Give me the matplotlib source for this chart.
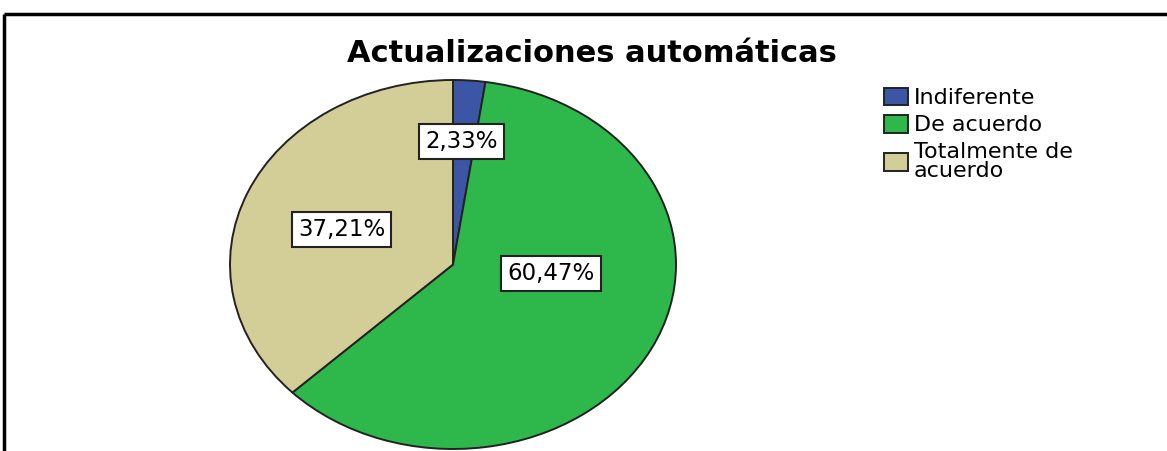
import matplotlib.pyplot as plt
from matplotlib.lines import Line2D

# data
categories = ['Indiferente', 'De acuerdo', 'Totalmente de\nacuerdo']
percentages = [2.33, 60.47, 37.21]
colors = ['#3c56a6', '#2eb84b', '#d3ce98']
title = 'Actualizaciones automáticas'

# label box positions (data coords inside the unit pie)
label_pos = [(0.04, 0.665), (0.44, -0.05), (-0.50, 0.19)]

fig = plt.figure(figsize=(11.67, 4.51), dpi=100)
W, H = 1167, 451

# pie axes, stretched into an ellipse like the original
ax = fig.add_axes([230 / W, 1 - 449 / H, 446 / W, 369 / H])
wedges, _ = ax.pie(percentages, colors=colors, startangle=90, counterclock=False,
                   wedgeprops=dict(edgecolor='#222222', linewidth=1.4))
ax.set_aspect('auto')
ax.set_xlim(-1.0, 1.0)
ax.set_ylim(-1.0, 1.0)

for (x, y), p in zip(label_pos, percentages):
    ax.text(x, y, f'{p:.2f}%'.replace('.', ','), ha='center', va='center', fontsize=16.5,
            bbox=dict(boxstyle='square,pad=0.27', facecolor='white', edgecolor='#222222', linewidth=1.5))

# title
fig.text(592 / W, 1 - 54 / H, title, ha='center', va='center', fontsize=22, fontweight='bold')

# legend
leg = fig.legend(wedges, categories, loc='upper left', bbox_to_anchor=(868 / W, 1 - 72 / H),
                 frameon=False, fontsize=16, handlelength=1.1, handleheight=0.85,
                 handletextpad=0.25, labelspacing=0.3, borderpad=0.2)
for h in leg.legend_handles:
    h.set_edgecolor('#222222')
    h.set_linewidth(1.4)
leg.get_texts()[2].set_linespacing(0.95)

# outer border (top and left)
fig.add_artist(Line2D([4 / W, 1], [1 - 13.5 / H, 1 - 13.5 / H], color='black', lw=2.5,
                      solid_capstyle='butt', transform=fig.transFigure))
fig.add_artist(Line2D([4 / W, 4 / W], [0, 1 - 13.5 / H], color='black', lw=2.5,
                      solid_capstyle='butt', transform=fig.transFigure))

fig.savefig('out.png', dpi=100)
